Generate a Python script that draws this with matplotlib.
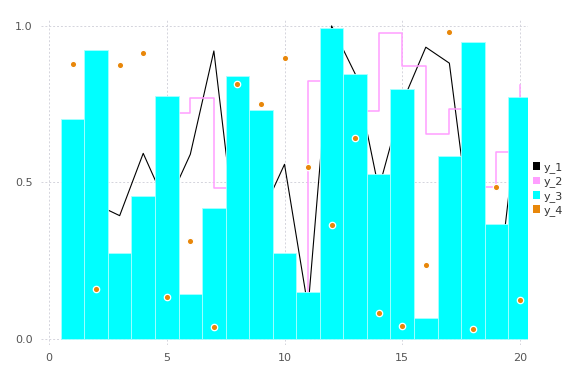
import matplotlib
matplotlib.use("Agg")
import matplotlib.pyplot as plt
from matplotlib.patches import Patch

x = list(range(1, 21))
y_1 = [0.55, 0.43, 0.394, 0.593, 0.425, 0.59, 0.92, 0.288, 0.394, 0.558,
       0.10, 1.0, 0.847, 0.48, 0.755, 0.932, 0.881, 0.295, 0.12, 0.77]
y_2 = [0.45, 0.20, 0.12, 0.35, 0.722, 0.770, 0.481, 0.55, 0.20, 0.10,
       0.824, 0.60, 0.727, 0.977, 0.871, 0.655, 0.735, 0.485, 0.596, 0.81]
y_3 = [0.703, 0.923, 0.274, 0.458, 0.776, 0.144, 0.419, 0.840, 0.732, 0.276,
       0.149, 0.994, 0.847, 0.527, 0.798, 0.068, 0.586, 0.950, 0.366, 0.773]
y_4 = [0.879, 0.160, 0.875, 0.915, 0.134, 0.313, 0.037, 0.816, 0.751, 0.897,
       0.549, 0.363, 0.643, 0.084, 0.042, 0.235, 0.980, 0.032, 0.487, 0.126]
labels = ["y_1", "y_2", "y_3", "y_4"]
xticks = [0, 5, 10, 15, 20]
yticks = [0.0, 0.5, 1.0]
ytick_labels = ["0.0", "0.5", "1.0"]

c1, c2, c3, c4 = "black", "#ff9eff", "#00ffff", "#e8870a"

fig = plt.figure(figsize=(5.76, 3.84), dpi=100)
ax = fig.add_axes([0.0712, 0.1016, 0.9167 - 0.0712, 0.9505 - 0.1016])

ax.plot(x, y_1, color=c1, lw=0.8, zorder=2)
ax.plot(x, y_2, color=c2, lw=1.1, drawstyle="steps-post", zorder=2)
ax.bar(x, y_3, width=1.0, color=c3, edgecolor="#a8ffff", linewidth=0.6, zorder=3)
ax.plot(x, y_4, linestyle="none", marker="o", ms=4.6, color=c4,
        mec="white", mew=0.9, zorder=4)

ax.set_xlim(-0.34, 20.34)
ax.set_ylim(-0.019, 1.022)
ax.set_xticks(xticks)
ax.set_yticks(yticks)
ax.set_yticklabels(ytick_labels)
for s in ax.spines.values():
    s.set_visible(False)
ax.tick_params(length=0, labelsize=8, labelcolor="#555555", pad=6)
ax.grid(True, linestyle=(0, (2, 2)), color="#d4d4dc", lw=0.7)
ax.set_axisbelow(True)

handles = [Patch(facecolor=c, edgecolor="none") for c in (c1, c2, c3, c4)]
leg = fig.legend(handles, labels, loc="upper left", bbox_to_anchor=(0.915, 0.592),
                 frameon=False, fontsize=8, handlelength=0.7, handleheight=0.7,
                 handletextpad=0.3, labelspacing=0.3, borderpad=0)
for t in leg.get_texts():
    t.set_color("#333333")

fig.savefig("out.png", dpi=100)
